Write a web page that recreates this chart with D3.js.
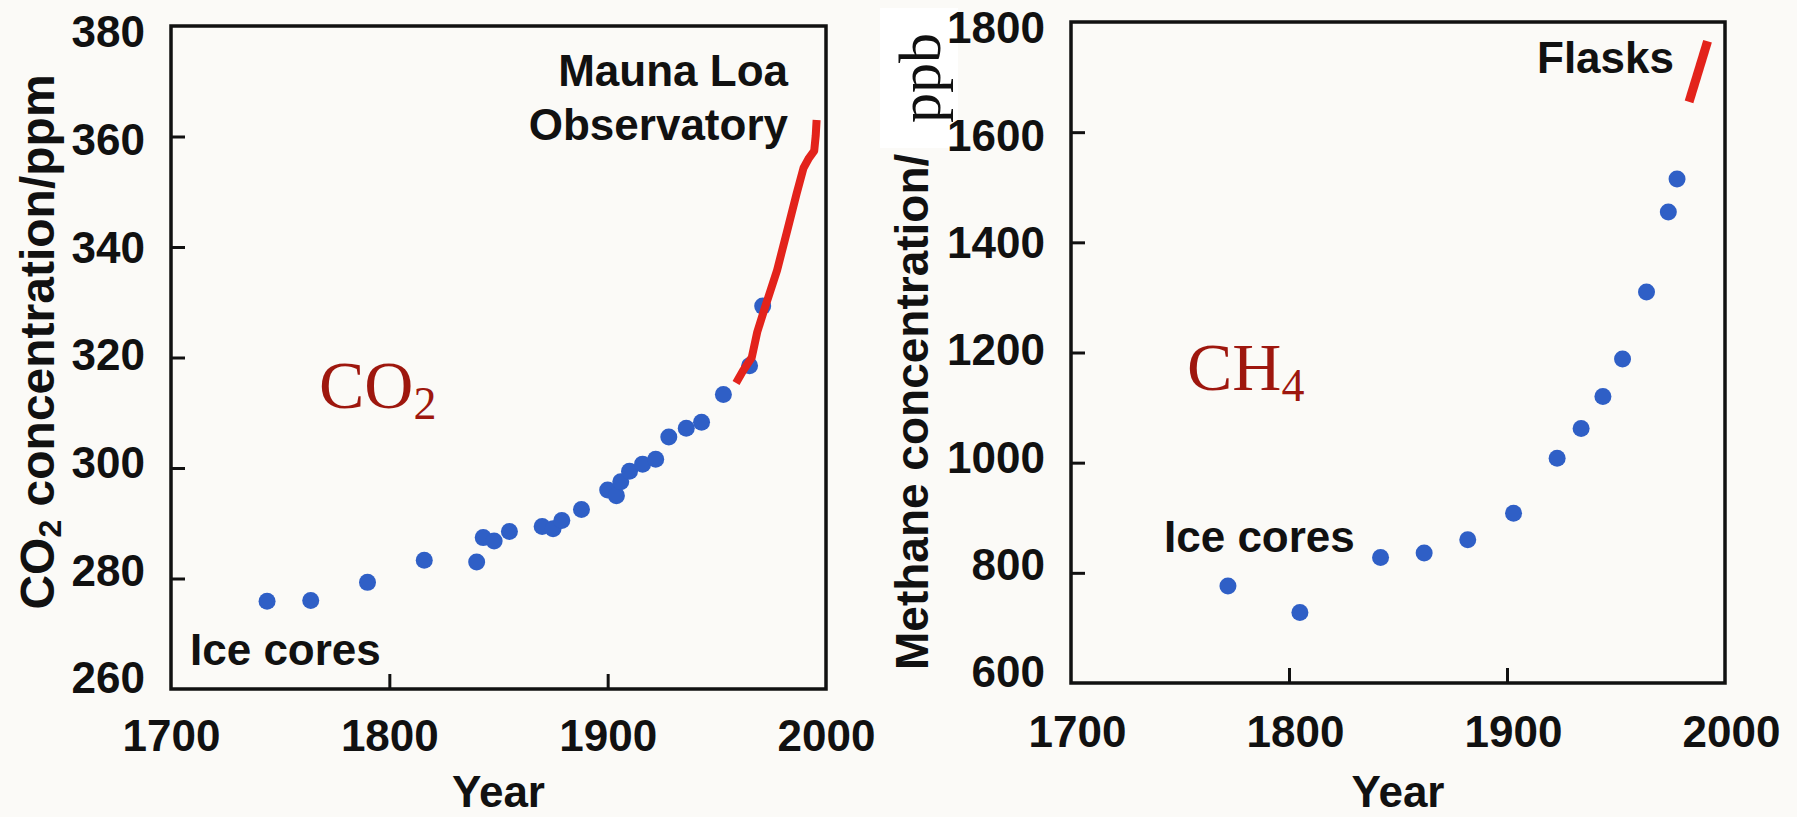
<!DOCTYPE html>
<html>
<head>
<meta charset="utf-8">
<script src="https://cdn.jsdelivr.net/npm/d3@7"></script>
<style>
  html, body { margin: 0; padding: 0; background: #fbfaf7; }
  svg { display: block; }
  .sans { font-family: "Liberation Sans", Arial, Helvetica, sans-serif; font-weight: bold; fill: #111; }
  .serif { font-family: "Liberation Serif", "Times New Roman", serif; }
</style>
</head>
<body>
<svg id="chart" width="1797" height="817"></svg>
<script>
// ---------------- DATA ----------------
const yearTicks = [1700, 1800, 1900, 2000];
const co2Ticks = [260, 280, 300, 320, 340, 360, 380];
const ch4Ticks = [600, 800, 1000, 1200, 1400, 1600, 1800];

// CO2 ice-core samples
const co2Years  = [1744, 1764, 1790, 1816, 1840, 1843, 1848, 1855, 1870, 1875, 1879, 1888,
                   1900, 1904, 1906, 1910, 1916, 1922, 1928, 1936, 1943, 1953, 1965, 1971];
const co2Values = [275.9, 276.0, 279.3, 283.3, 283.0, 287.4, 286.8, 288.5, 289.4, 289.0, 290.5, 292.5,
                   296.0, 295.0, 297.5, 299.4, 300.7, 301.6, 305.6, 307.2, 308.3, 313.3, 318.5, 329.3];

// Mauna Loa record
const maunaYears  = [1958.8, 1962, 1966, 1968.5, 1972, 1977.6, 1982, 1986.5, 1989.7, 1992.2, 1994.6, 1995.3, 1995.7];
const maunaValues = [315.4, 317.6, 320.0, 324.6, 329.0, 335.8, 342.6, 349.6, 354.3, 356.1, 357.4, 360.2, 363.0];

// CH4 ice-core samples
const ch4Years  = [1772, 1805, 1842, 1862, 1882, 1903, 1923, 1934, 1944, 1953, 1964, 1974, 1978];
const ch4Values = [776, 728, 828, 836, 860, 908, 1008, 1062, 1120, 1188, 1310, 1455, 1515];

// Flask record
const flaskYears  = [1983.5, 1992];
const flaskValues = [1655, 1765];

// ---------------- DRAWING ----------------
const svg = d3.select("#chart");
svg.append("rect").attr("width", 1797).attr("height", 817).attr("fill", "#fbfaf7");

const BLUE = "#2f5fc6", RED = "#e3231b", DARKRED = "#9e170e";

// y-axis titles (drawn first so that tick labels sit on top)
const t1 = svg.append("text").attr("class", "sans")
  .attr("transform", "translate(54,342) rotate(-90)").attr("text-anchor", "middle")
  .style("font-size", "48px");
t1.append("tspan").text("CO");
t1.append("tspan").attr("baseline-shift", "-22%").style("font-size", "32px").text("2");
t1.append("tspan").text(" concentration/ppm");

svg.append("text").attr("class", "sans")
  .attr("transform", "translate(928,670) rotate(-90)").attr("text-anchor", "start")
  .style("font-size", "46px").text("Methane concentration/");
svg.append("rect").attr("x", 880).attr("y", 8).attr("width", 78).attr("height", 140).attr("fill", "#ffffff");
svg.append("text").attr("class", "serif").attr("fill", "#111")
  .attr("transform", "translate(940,123) rotate(-90)").style("font-size", "60px").text("ppb");

function panel(opt) {
  const g = svg.append("g");
  const x = d3.scaleLinear().domain([1700, 2000]).range([opt.x0, opt.x1]);
  const y = d3.scaleLinear().domain(opt.yDomain).range([opt.yBot, opt.yTop]);
  const yLab = d3.scaleLinear().domain(opt.yDomain).range(opt.labRange);

  // inward ticks
  g.append("g").attr("transform", `translate(0,${opt.yBot})`)
    .call(d3.axisTop(x).tickValues(yearTicks.slice(1, -1)).tickSize(15).tickFormat(""))
    .call(a => a.select(".domain").remove())
    .selectAll("line").attr("stroke", "#111").attr("stroke-width", 3);
  g.append("g").attr("transform", `translate(${opt.x0},0)`)
    .call(d3.axisRight(y).tickValues(opt.ticks.slice(1, -1)).tickSize(14).tickFormat(""))
    .call(a => a.select(".domain").remove())
    .selectAll("line").attr("stroke", "#111").attr("stroke-width", 3);

  // tick labels
  const xl = g.append("g").attr("transform", `translate(0,${opt.yBot})`)
    .call(d3.axisBottom(x).tickValues(yearTicks).tickSize(0).tickFormat(d3.format("d")));
  xl.select(".domain").remove();
  xl.selectAll("text").attr("class", "sans").attr("y", opt.xLabOff).attr("dy", 0)
    .attr("dx", opt.xLabDx).style("font-size", "44px");
  const yl = g.append("g").attr("transform", `translate(${opt.x0},0)`)
    .call(d3.axisLeft(yLab).tickValues(opt.ticks).tickSize(0).tickPadding(26).tickFormat(d3.format("d")));
  yl.select(".domain").remove();
  yl.selectAll("text").attr("class", "sans").attr("dy", "0.36em").style("font-size", "44px");

  // frame
  g.append("rect").attr("x", opt.x0).attr("y", opt.yTop)
    .attr("width", opt.x1 - opt.x0).attr("height", opt.yBot - opt.yTop)
    .attr("fill", "none").attr("stroke", "#111").attr("stroke-width", 3.5);

  // dots
  g.selectAll("circle.d").data(opt.dotsX.map((d, i) => [d, opt.dotsY[i]])).join("circle")
    .attr("cx", d => x(d[0])).attr("cy", d => y(d[1])).attr("r", 8.5).attr("fill", BLUE);

  // line
  const line = d3.line().x(d => x(d[0])).y(d => y(d[1])).curve(d3.curveLinear);
  g.append("path").datum(opt.lineX.map((d, i) => [d, opt.lineY[i]]))
    .attr("d", line).attr("fill", "none").attr("stroke", RED)
    .attr("stroke-width", opt.lineW).attr("stroke-linejoin", "round");

  // Year title
  g.append("text").attr("class", "sans").attr("x", (opt.x0 + opt.x1) / 2).attr("y", 807)
    .attr("text-anchor", "middle").style("font-size", "44px").text("Year");
  return { g, x, y };
}

const L = panel({
  x0: 171, x1: 826, yTop: 26, yBot: 689, yDomain: [260, 380], labRange: [677, 31],
  ticks: co2Ticks, xLabOff: 62, xLabDx: 0,
  dotsX: co2Years, dotsY: co2Values, lineX: maunaYears, lineY: maunaValues, lineW: 8
});
const R = panel({
  x0: 1071, x1: 1725, yTop: 22, yBot: 683, yDomain: [600, 1800], labRange: [671, 27],
  ticks: ch4Ticks, xLabOff: 64, xLabDx: 6,
  dotsX: ch4Years, dotsY: ch4Values, lineX: flaskYears, lineY: flaskValues, lineW: 9
});

// annotations
function label(x, y, txt, anchor) {
  svg.append("text").attr("class", "sans").attr("x", x).attr("y", y)
    .attr("text-anchor", anchor || "start").style("font-size", "44px").text(txt);
}
label(788, 86, "Mauna Loa", "end");
label(788, 140, "Observatory", "end");
label(190, 665, "Ice cores");
label(1164, 552, "Ice cores");
label(1537, 73, "Flasks");

// chemical formula labels
function formula(x, y, main, sub) {
  const t = svg.append("text").attr("class", "serif").attr("x", x).attr("y", y)
    .attr("fill", DARKRED).style("font-size", "68px");
  t.append("tspan").text(main);
  t.append("tspan").attr("dy", 11).style("font-size", "46px").text(sub);
}
formula(319, 408, "CO", "2");
formula(1187, 390, "CH", "4");
</script>
</body>
</html>
